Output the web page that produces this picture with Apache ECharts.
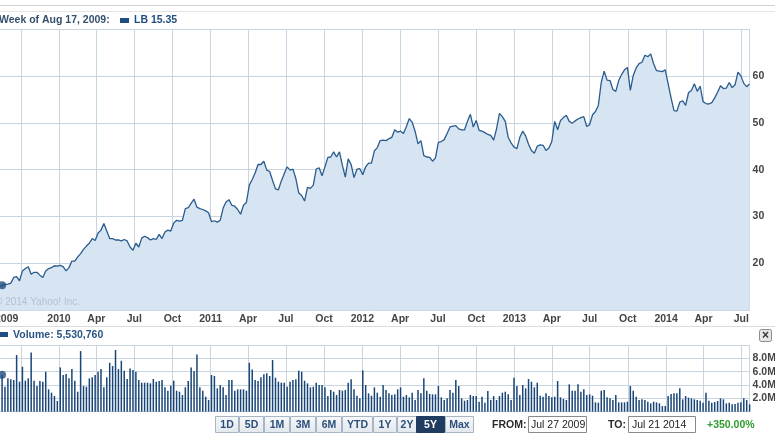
<!DOCTYPE html>
<html>
<head>
<meta charset="utf-8">
<script src="https://cdn.jsdelivr.net/npm/echarts@6/dist/echarts.min.js"></script>
<style>
html,body{margin:0;padding:0;background:#fff;}
#chart{width:775px;height:435px;}
</style>
</head>
<body>
<div id="chart"></div>
<script>
// ---------------- DATA ----------------
const START_WEEK = '2009-07-27';   // first weekly bar (Monday)
const HOVER_INDEX = 3;             // week of Aug 17, 2009
const TICKER = 'LB';
const HOVER_LABEL = 'Week of Aug 17, 2009:';
const HOVER_VOLUME_TEXT = '5,530,760';
const RANGE_FROM = 'Jul 27 2009';
const RANGE_TO = 'Jul 21 2014';
const RANGE_CHANGE = '+350.00%';

// weekly closing price
const PRICE = [
13.0,14.3,15.0,15.35,15.5,15.6,15.8,17.0,17.2,16.3,
18.4,18.9,19.3,17.7,18.1,18.1,17.5,17.0,18.4,18.9,
19.1,19.5,19.4,19.6,19.3,18.4,19.1,20.5,20.5,21.4,
22.1,23.0,23.7,24.3,25.3,24.9,26.5,27.1,28.5,26.9,
25.3,25.3,25.0,25.0,24.8,25.1,24.8,23.5,22.8,24.3,
23.5,25.4,25.8,25.5,25.0,25.3,25.1,26.2,25.3,26.7,
27.1,26.9,28.6,29.2,29.0,29.2,31.7,31.9,32.8,33.7,
32.0,31.7,31.5,31.2,30.8,28.9,29.1,28.8,29.2,31.8,
33.1,33.6,32.4,32.2,31.5,30.5,32.4,33.0,36.7,37.9,
39.3,41.1,41.1,41.8,39.9,39.6,37.7,35.9,35.7,37.6,
39.1,40.6,39.9,40.1,38.1,35.0,34.5,33.3,36.2,36.0,
36.7,40.1,40.4,38.7,40.6,42.6,42.7,43.8,42.7,43.8,
40.9,38.4,42.3,41.1,38.3,40.1,40.2,38.9,40.6,41.4,
41.4,44.0,44.7,46.2,46.3,46.2,46.6,46.9,48.5,48.0,
48.2,47.7,49.2,50.9,50.1,48.2,45.5,46.2,43.0,42.7,
42.6,41.8,42.5,45.8,46.0,46.4,47.7,49.1,49.3,49.4,
48.7,48.5,48.5,50.3,51.8,49.1,50.5,48.4,48.2,47.9,
47.5,47.3,46.3,48.7,52.0,51.3,50.3,46.9,45.7,44.8,
44.5,46.9,48.2,47.2,45.4,44.1,43.5,45.0,45.3,45.2,
44.1,44.6,46.0,50.3,48.5,50.5,51.1,51.6,50.3,49.9,
50.4,50.8,51.1,51.3,49.2,49.6,51.7,52.4,53.7,58.6,
61.0,59.1,59.0,57.1,56.7,59.0,60.3,61.3,61.8,56.9,
60.1,61.7,62.6,62.9,64.4,64.1,64.7,62.6,61.1,61.0,
60.9,61.3,58.3,55.3,52.6,52.5,54.4,54.7,53.7,56.4,
56.9,58.3,56.7,57.8,54.5,54.1,54.0,54.3,55.3,56.5,
57.9,57.3,57.4,58.6,57.5,58.1,60.8,60.0,58.4,57.7,
58.3
];

// weekly volume, millions of shares
const VOLUME = [
4.8,5.2,3.9,
5.53,3.75,5.00,4.85,4.75,8.49,4.50,6.74,4.65,5.00,
8.89,4.65,3.85,4.60,4.50,5.99,3.35,2.85,2.35,1.60,
6.64,5.50,5.65,5.00,6.39,4.65,3.00,9.09,3.85,3.75,
5.00,5.15,5.50,5.99,6.39,3.65,5.15,7.34,6.84,9.24,
6.39,7.64,6.14,4.90,6.49,6.24,5.99,4.75,4.35,
4.35,4.35,4.25,4.90,4.50,4.60,4.75,3.65,3.15,3.90,
4.65,3.15,3.00,2.50,3.65,4.60,6.64,6.09,8.59,3.65,
3.15,2.25,1.75,5.50,5.35,3.50,4.00,
3.65,2.50,4.75,4.75,3.15,3.35,3.35,3.35,3.15,7.34,
6.34,4.75,4.60,5.15,5.60,5.75,5.35,7.74,5.10,4.50,
4.35,4.35,3.75,4.50,4.75,4.85,6.14,5.99,4.65,4.25,
3.65,
3.75,4.35,4.00,4.00,3.65,2.35,3.25,3.00,2.50,3.25,
3.15,3.25,4.35,4.85,3.35,2.40,2.00,6.19,4.00,2.75,
2.40,3.65,2.85,2.25,4.00,3.25,2.75,2.50,2.60,3.35,
3.65,2.25,2.50,2.15,2.85,1.75,3.25,2.75,5.00,3.15,
2.65,2.60,2.60,3.85,2.15,1.75,2.00,3.25,2.85,4.75,
3.85,2.00,1.65,1.75,2.50,2.35,2.35,1.50,2.25,1.35,
3.10,1.75,2.35,1.75,2.35,2.85,3.00,2.60,1.75,5.10,
3.85,2.50,4.00,3.50,4.90,4.50,3.65,4.35,2.40,2.25,
2.75,2.35,2.15,2.25,4.60,2.15,1.90,1.75,4.10,
3.15,3.15,4.10,3.00,3.35,2.50,2.60,2.40,1.40,1.35,
3.15,3.25,2.15,2.00,1.75,2.50,1.40,1.40,1.40,1.50,
3.85,3.15,2.25,1.75,1.85,1.75,1.50,1.25,1.50,
1.40,1.25,0.85,0.85,2.35,2.65,2.75,2.75,3.50,
1.85,2.35,2.10,2.00,1.85,1.75,1.65,1.35,2.85,1.65,
1.35,1.45,1.60,2.00,
1.85,1.25,1.35,1.10,1.15,1.35,1.40,2.00,1.75,1.10
];

// visible date window
const X_MIN_DATE = '2009-08-12';
const X_MAX_DATE = '2014-07-21';

// vertical grid lines (quarter starts)
const GRID_DATES = [
'2009-10-01','2010-01-01','2010-04-01','2010-07-01','2010-10-01',
'2011-01-01','2011-04-01','2011-07-01','2011-10-01',
'2012-01-01','2012-04-01','2012-07-01','2012-10-01',
'2013-01-01','2013-04-01','2013-07-01','2013-10-01',
'2014-01-01','2014-04-01','2014-07-01'
];

// x tick labels
const TICK_LABELS = [
['2009-08-28','2009'],
['2010-01-01','2010'],['2010-04-01','Apr'],['2010-07-01','Jul'],['2010-10-01','Oct'],
['2011-01-01','2011'],['2011-04-01','Apr'],['2011-07-01','Jul'],['2011-10-01','Oct'],
['2012-01-01','2012'],['2012-04-01','Apr'],['2012-07-01','Jul'],['2012-10-01','Oct'],
['2013-01-01','2013'],['2013-04-01','Apr'],['2013-07-01','Jul'],['2013-10-01','Oct'],
['2014-01-01','2014'],['2014-04-01','Apr'],['2014-07-01','Jul']
];

const RANGE_BUTTONS = ['1D','5D','1M','3M','6M','YTD','1Y','2Y','5Y','Max'];
const SELECTED_BUTTON = '5Y';

// ---------------- HELPERS ----------------
function ts(s){ const p = s.split('-').map(Number); return Date.UTC(p[0], p[1]-1, p[2]); }
const DAY = 86400000;
const weekX = PRICE.map((_, i) => ts(START_WEEK) + i * 7 * DAY);
const priceData = PRICE.map((v, i) => [weekX[i], v]);
const volumeData = VOLUME.map((v, i) => [weekX[i], v]);
const xMin = ts(X_MIN_DATE), xMax = ts(X_MAX_DATE);
const gridVals = GRID_DATES.map(ts).concat([xMax]);
const labelMap = {};
TICK_LABELS.forEach(([d, t]) => { labelMap[ts(d)] = t; });
const labelVals = TICK_LABELS.map(([d]) => ts(d));

// ---------------- STYLE ----------------
const FONT = 'Liberation Sans, Arial, sans-serif';
const GRID_COLOR = '#c9d6e0';
const LINE_COLOR = '#2a5b8e';
const FILL_COLOR = '#d6e5f1';
const DARK_BLUE = '#1f4e80';
const AXIS_TEXT = '#444';

const chart = echarts.init(document.getElementById('chart'), null, {renderer: 'canvas'});

// layout of the bottom controls
const BTN_LEFT = [215, 239, 264, 290, 316, 342, 373, 397, 416, 445];
const BTN_W    = [23, 24, 25, 25, 25, 30, 23, 19, 28, 28];
const BTN_TOP = 416.5, BTN_H = 16;

const graphics = [
  {type:'line', shape:{x1:0,y1:5.5,x2:775,y2:5.5}, style:{stroke:'#d0d0d0',lineWidth:1}, silent:true},
  {type:'line', shape:{x1:0,y1:11.5,x2:775,y2:11.5}, style:{stroke:'#e4e4e4',lineWidth:1}, silent:true},
  {type:'line', shape:{x1:0,y1:326.5,x2:775,y2:326.5}, style:{stroke:'#dcdcdc',lineWidth:1}, silent:true},
  {type:'text', x:-1, y:20.5, style:{text:HOVER_LABEL, fill:'#34506e', font:'bold 10.5px ' + FONT, verticalAlign:'middle'}},
  {type:'rect', shape:{x:120, y:18, width:9, height:5}, style:{fill:DARK_BLUE}},
  {type:'text', x:134, y:20.5, style:{text:TICKER + ' ' + PRICE[HOVER_INDEX].toFixed(2), fill:DARK_BLUE, font:'bold 10.5px ' + FONT, verticalAlign:'middle'}},
  {type:'text', x:-5, y:302, z:10, style:{text:'\u00a9 2014 Yahoo! Inc.', fill:'#b2c2cf', font:'10px ' + FONT, verticalAlign:'middle'}},
  {type:'rect', shape:{x:0, y:332, width:8, height:5}, style:{fill:DARK_BLUE}},
  {type:'text', x:13, y:335, style:{text:'Volume: ' + HOVER_VOLUME_TEXT, fill:'#2a5585', font:'bold 10.5px ' + FONT, verticalAlign:'middle'}},
  {type:'rect', shape:{x:759.5, y:329.5, width:12, height:12, r:2}, style:{fill:'#e6e6e6', stroke:'#8c8c8c', lineWidth:1}},
  {type:'text', x:765.5, y:335.5, style:{text:'\u00d7', fill:'#333', font:'bold 12px ' + FONT, align:'center', verticalAlign:'middle'}},
  {type:'text', x:492, y:425, style:{text:'FROM:', fill:'#2b2b2b', font:'bold 10.5px ' + FONT, verticalAlign:'middle'}},
  {type:'rect', shape:{x:528.5, y:416.5, width:58, height:16}, style:{fill:'#fff', stroke:'#8a8a8a', lineWidth:1}},
  {type:'text', x:531, y:425, style:{text:RANGE_FROM, fill:'#222', font:'10.5px ' + FONT, verticalAlign:'middle'}},
  {type:'text', x:608, y:425, style:{text:'TO:', fill:'#2b2b2b', font:'bold 10.5px ' + FONT, verticalAlign:'middle'}},
  {type:'rect', shape:{x:628.5, y:416.5, width:67, height:16}, style:{fill:'#fff', stroke:'#8a8a8a', lineWidth:1}},
  {type:'text', x:632, y:425, style:{text:RANGE_TO, fill:'#222', font:'10.5px ' + FONT, verticalAlign:'middle'}},
  {type:'text', x:707, y:425, style:{text:RANGE_CHANGE, fill:'#2e9e2e', font:'bold 10.5px ' + FONT, verticalAlign:'middle'}}
];
RANGE_BUTTONS.forEach((b, i) => {
  const sel = b === SELECTED_BUTTON;
  graphics.push({type:'rect', shape:{x:BTN_LEFT[i] + 0.5, y:BTN_TOP, width:BTN_W[i], height:BTN_H},
    style:{fill: sel ? '#1f3b60' : new echarts.graphic.LinearGradient(0,0,0,1,[{offset:0,color:'#f7f9fb'},{offset:1,color:'#e1e7ed'}]),
           stroke: sel ? '#1f3b60' : '#a9b5c1', lineWidth:1}});
  graphics.push({type:'text', x:BTN_LEFT[i] + 0.5 + BTN_W[i] / 2, y:BTN_TOP + BTN_H / 2 + 0.5,
    style:{text:b, fill: sel ? '#ffffff' : '#2c4f7a', font:'bold 10.5px ' + FONT, align:'center', verticalAlign:'middle'}});
});

const option = {
  animation: false,
  backgroundColor: '#ffffff',
  grid: [
    {left: 0, right: 25.4, top: 29, height: 281.3, outerBoundsMode: 'none', containLabel: false},
    {left: 0, right: 25.4, top: 345, height: 66.7, outerBoundsMode: 'none', containLabel: false}
  ],
  xAxis: [
    {type:'value', gridIndex:0, min:xMin, max:xMax,
     axisLine:{show:false},
     axisTick:{show:false, customValues: gridVals},
     splitLine:{show:true, lineStyle:{color:GRID_COLOR, width:1}},
     axisLabel:{show:true, customValues: labelVals, margin:3, color:AXIS_TEXT,
       fontFamily:FONT, fontWeight:'bold', fontSize:10.5,
       formatter: v => labelMap[v] || ''}},
    {type:'value', gridIndex:1, min:xMin, max:xMax,
     axisLine:{show:false},
     axisTick:{show:false, customValues: gridVals},
     splitLine:{show:true, lineStyle:{color:GRID_COLOR, width:1}},
     axisLabel:{show:false}}
  ],
  yAxis: [
    {type:'value', gridIndex:0, position:'right', min:10, max:70, interval:10,
     axisLine:{show:false}, axisTick:{show:false},
     splitLine:{show:true, lineStyle:{color:GRID_COLOR, width:1}},
     axisLabel:{margin:3, color:AXIS_TEXT, fontFamily:FONT, fontWeight:'bold', fontSize:10.5,
       showMinLabel:false, showMaxLabel:false}},
    {type:'value', gridIndex:1, position:'right', min:0, max:10, interval:2,
     axisLine:{show:false}, axisTick:{show:false},
     splitLine:{show:true, lineStyle:{color:GRID_COLOR, width:1}},
     axisLabel:{margin:3, color:AXIS_TEXT, fontFamily:FONT, fontWeight:'bold', fontSize:10.5,
       showMinLabel:false, showMaxLabel:false, formatter: v => v.toFixed(1) + 'M'}}
  ],
  series: [
    {type:'line', xAxisIndex:0, yAxisIndex:0, data:priceData, showSymbol:false, smooth:false,
     lineStyle:{color:LINE_COLOR, width:1.3},
     areaStyle:{color:FILL_COLOR, opacity:1, origin:'start'}, clip:true, z:3},
    {type:'scatter', xAxisIndex:0, yAxisIndex:0, data:[priceData[HOVER_INDEX]], symbolSize:8,
     itemStyle:{color:DARK_BLUE}, z:5},
    {type:'bar', xAxisIndex:1, yAxisIndex:1, data:volumeData, barWidth:1.5,
     itemStyle:{color:'#1a4677'}, z:3},
    {type:'scatter', xAxisIndex:1, yAxisIndex:1, data:[volumeData[HOVER_INDEX]], symbolSize:8,
     itemStyle:{color:DARK_BLUE}, z:5}
  ],
  graphic: graphics
};
chart.setOption(option);
</script>
</body>
</html>
